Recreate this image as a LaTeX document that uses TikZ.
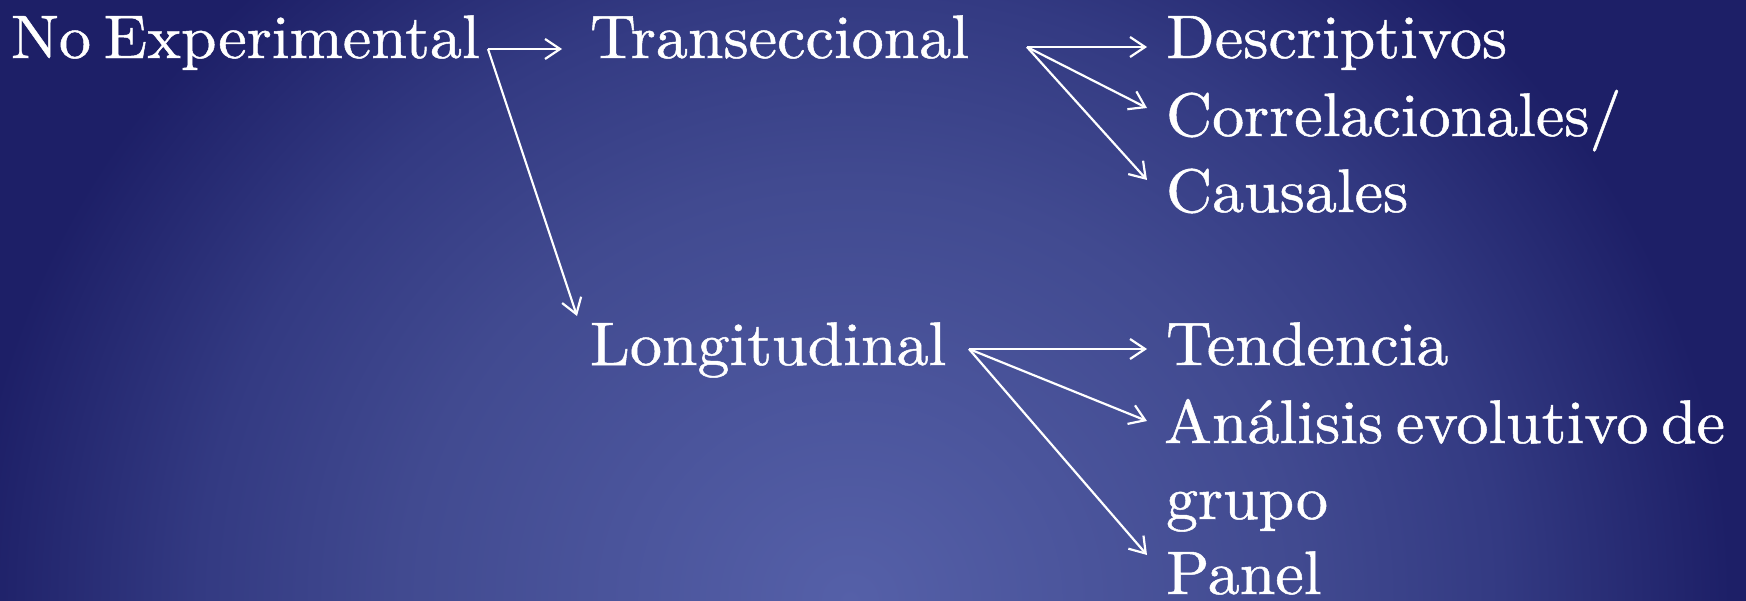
\documentclass[tikz,border=0pt]{standalone}
\usepackage{fontspec}
\setmainfont{lmroman10-regular.otf}[FakeStretch=1.04,FakeBold=0.8,WordSpace=0.6]
\usetikzlibrary{arrows.meta,calc}

% Slide background: light at the bottom centre, deep navy towards the edges
\pgfdeclareradialshading{slidebg}{\pgfpointorigin}{%
  rgb(0bp)=(0.333,0.376,0.659);
  rgb(11.2bp)=(0.255,0.290,0.565);
  rgb(16.3bp)=(0.200,0.227,0.510);
  rgb(22bp)=(0.114,0.122,0.404);
  rgb(50bp)=(0.114,0.122,0.404)}

\tikzset{
  lbl/.style={anchor=base west, inner sep=0pt, outer sep=0pt, text=white,
    font=\fontsize{61.5}{70}\selectfont},
  link/.style={draw=white, line width=2.2pt,
    -{Straight Barb[length=15pt,width=20pt]}},
}

\begin{document}
\begin{tikzpicture}[x=1pt,y=-1pt]
\useasboundingbox (0,0) rectangle (1746,600);
\begin{scope}
  \clip (0,0) rectangle (1746,600);
  \shade[shading=slidebg] (-150,-340) rectangle (1850,1540);
\end{scope}

% labels
\node[lbl] (noexp) at (11,58)   {No Experimental};
\node[lbl] (trans) at (590,58)  {Transeccional};
\node[lbl] (longi) at (590,365) {Longitudinal};
\node[lbl] (desc)  at (1166,58)  {Descriptivos};
\node[lbl] (corr)  at (1166,136) {Correlacionales/};
\node[lbl] (caus)  at (1166,212) {Causales};
\node[lbl] (tend)  at (1166,365) {Tendencia};
\node[lbl] (anal)  at (1164,443) {Análisis evolutivo de};
\node[lbl] (grupo) at (1166,519) {grupo};
\node[lbl] (panel) at (1166,594) {Panel};

% branching points
\coordinate (nsplit) at ($(noexp.base west)+(477,-9)$);
\coordinate (tsplit) at ($(trans.base west)+(437,-11)$);
\coordinate (lsplit) at ($(longi.base west)+(379,-16)$);

% connectors
\draw[link] (nsplit) -- ($(trans.base west)+(-28,-9)$);
\draw[link] (nsplit) -- ($(longi.base west)+(-13,-49)$);

\draw[link] (tsplit) -- ($(desc.base west)+(-19,-11)$);
\draw[link] (tsplit) -- ($(corr.base west)+(-19,-28)$);
\draw[link] (tsplit) -- ($(caus.base west)+(-19,-32)$);

\draw[link] (lsplit) -- ($(tend.base west)+(-19,-16)$);
\draw[link] (lsplit) -- ($(anal.base west)+(-17,-22)$);
\draw[link] (lsplit) -- ($(panel.base west)+(-19,-39)$);
\end{tikzpicture}
\end{document}
